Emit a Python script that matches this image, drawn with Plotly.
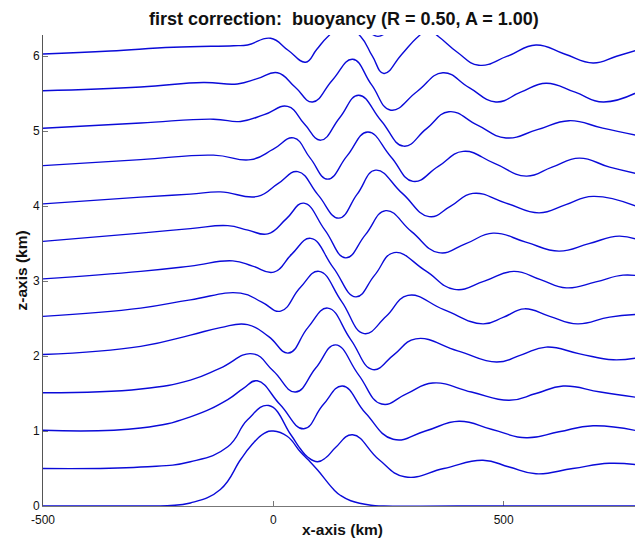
import plotly.graph_objects as go

# ---- data (x in km, z in km) ----
L00_x = [-500, -300, -230, -180, -115, -71, -49, -20, 0, 30, 59, 75, 96, 131, 146, 168, 212, 240, 400, 800]
L00_z = [0, 0, 0.005, 0.04, 0.22, 0.62, 0.80, 0.97, 1.0, 0.93, 0.72, 0.62, 0.48, 0.22, 0.14, 0.07, 0.01, 0, 0, 0]

L05_x = [-500, -288, -180, -99, -56, -10, 38, 59, 75, 96, 115, 135, 172, 229, 285, 370, 455, 512, 570, 650, 729, 800]
L05_z = [0.5, 0.52, 0.59, 0.79, 1.15, 1.34, 0.95, 0.76, 0.65, 0.59, 0.65, 0.78, 0.95, 0.62, 0.39, 0.50, 0.61, 0.52, 0.43, 0.50, 0.57, 0.54]

L10_x = [-500, -288, -180, -99, -65, -35, 15, 66, 108, 150, 200, 260, 330, 403, 475, 549, 620, 694, 800]
L10_z = [1.01, 1.04, 1.19, 1.42, 1.57, 1.67, 1.35, 1.03, 1.35, 1.60, 1.24, 0.89, 1.0, 1.13, 1.02, 0.91, 0.99, 1.07, 0.99]

L15_x = [-500, -288, -180, -115, -45, 0, 48, 92, 135, 185, 235, 290, 346, 430, 512, 570, 629, 710, 800]
L15_z = [1.51, 1.56, 1.68, 1.84, 2.03, 1.80, 1.52, 1.84, 2.15, 1.75, 1.36, 1.50, 1.64, 1.52, 1.41, 1.50, 1.60, 1.52, 1.44]

L20_x = [-500, -288, -180, -115, -56, -10, 33, 75, 118, 168, 216, 262, 309, 400, 485, 540, 592, 665, 738, 800]
L20_z = [2.02, 2.13, 2.28, 2.38, 2.42, 2.26, 2.04, 2.38, 2.64, 2.22, 1.82, 2.02, 2.23, 2.07, 1.92, 2.02, 2.12, 2.03, 1.95, 1.99]

L25_x = [-500, -288, -180, -71, -25, 16, 58, 99, 148, 197, 245, 292, 370, 455, 500, 545, 600, 660, 730, 800]
L25_z = [2.53, 2.64, 2.75, 2.84, 2.72, 2.60, 2.91, 3.13, 2.73, 2.30, 2.53, 2.81, 2.62, 2.43, 2.52, 2.63, 2.53, 2.43, 2.52, 2.56]

L30_x = [-500, -288, -180, -88, -45, 1, 40, 81, 130, 179, 220, 262, 330, 393, 458, 522, 580, 636, 700, 759, 800]
L30_z = [3.03, 3.13, 3.20, 3.27, 3.20, 3.12, 3.36, 3.57, 3.18, 2.79, 3.08, 3.38, 3.14, 2.89, 3.00, 3.13, 3.02, 2.91, 2.99, 3.08, 3.06]

L35_x = [-500, -288, -180, -99, -55, -12, 28, 66, 112, 157, 200, 244, 300, 359, 418, 477, 548, 620, 685, 751, 800]
L35_z = [3.53, 3.64, 3.70, 3.74, 3.68, 3.63, 3.83, 4.04, 3.68, 3.31, 3.62, 3.94, 3.66, 3.38, 3.50, 3.64, 3.52, 3.40, 3.50, 3.60, 3.53]

L40_x = [-500, -288, -180, -115, -34, 10, 53, 97, 142, 182, 222, 280, 338, 385, 433, 505, 577, 635, 694, 800]
L40_z = [4.03, 4.12, 4.16, 4.19, 4.13, 4.30, 4.46, 4.15, 3.84, 4.16, 4.48, 4.17, 3.86, 4.00, 4.17, 4.04, 3.91, 4.02, 4.13, 3.97]

L45_x = [-500, -288, -130, -49, 0, 44, 80, 118, 160, 205, 255, 303, 358, 412, 480, 549, 605, 664, 730, 800]
L45_z = [4.54, 4.62, 4.68, 4.62, 4.76, 4.91, 4.64, 4.36, 4.67, 4.99, 4.66, 4.33, 4.53, 4.73, 4.57, 4.40, 4.52, 4.64, 4.52, 4.42]

L50_x = [-500, -288, -130, -71, -20, 31, 67, 103, 144, 185, 234, 283, 332, 381, 443, 505, 573, 642, 715, 800]
L50_z = [5.04, 5.11, 5.16, 5.13, 5.22, 5.33, 5.10, 4.88, 5.18, 5.48, 5.14, 4.80, 5.03, 5.26, 5.08, 4.91, 5.02, 5.14, 5.04, 4.93]

L55_x = [-500, -288, -152, -78, -35, 9, 47, 85, 128, 172, 213, 255, 312, 368, 425, 483, 537, 592, 655, 716, 800]
L55_z = [5.54, 5.59, 5.65, 5.63, 5.70, 5.78, 5.59, 5.39, 5.68, 5.96, 5.62, 5.28, 5.53, 5.78, 5.58, 5.39, 5.52, 5.64, 5.52, 5.39, 5.55]

L60_x = [-500, -354, -217, -86, -56, -6, 32, 70, 94, 118, 153, 190, 215, 240, 278, 314, 336, 359, 400, 446, 508, 570, 632, 694, 745, 800]
L60_z = [6.03, 6.07, 6.12, 6.14, 6.15, 6.24, 6.08, 5.92, 6.09, 6.26, 6.42, 6.26, 6.00, 5.77, 6.02, 6.26, 6.35, 6.26, 6.05, 5.88, 6.00, 6.15, 6.03, 5.91, 6.00, 6.10]

L65_x = [-500, 100, 160, 200, 227, 255, 295, 350, 800]
L65_z = [6.55, 6.6, 6.5, 6.36, 6.265, 6.36, 6.5, 6.6, 6.55]

x_ticks = [-500, 0, 500]
x_tick_labels = ["-500", "0", "500"]
z_ticks = [0, 1, 2, 3, 4, 5, 6]
z_tick_labels = ["0", "1", "2", "3", "4", "5", "6"]

title_text = "first correction:  buoyancy (R = 0.50, A = 1.00)"
x_label = "x-axis (km)"
z_label = "z-axis (km)"

lines = [(L00_x, L00_z), (L05_x, L05_z), (L10_x, L10_z), (L15_x, L15_z),
         (L20_x, L20_z), (L25_x, L25_z), (L30_x, L30_z), (L35_x, L35_z),
         (L40_x, L40_z), (L45_x, L45_z), (L50_x, L50_z), (L55_x, L55_z),
         (L60_x, L60_z), (L65_x, L65_z)]

fig = go.Figure()
for xs, zs in lines:
    fig.add_trace(go.Scatter(
        x=xs, y=zs, mode="lines",
        line=dict(color="#0a0ad8", width=1.4, shape="spline", smoothing=1.3),
        showlegend=False, hoverinfo="skip"))

font_family = "Liberation Sans, Arial, Helvetica, sans-serif"

fig.update_layout(
    width=635, height=539,
    margin=dict(l=43, r=0, t=35, b=33),
    paper_bgcolor="white", plot_bgcolor="white",
    font=dict(family=font_family, size=12, color="#111111"),
    xaxis=dict(range=[-500, 785], tickvals=x_ticks, ticktext=x_tick_labels,
               ticks="inside", ticklen=5, tickcolor="#777777",
               showline=True, linecolor="#777777", linewidth=1,
               showgrid=False, zeroline=False, layer="below traces",
               ticklabelstandoff=3,
               tickfont=dict(size=12, color="#111111")),
    yaxis=dict(range=[0, 6.283], tickvals=z_ticks, ticktext=z_tick_labels,
               ticks="inside", ticklen=5, tickcolor="#777777",
               showline=True, linecolor="#555555", linewidth=1,
               showgrid=False, zeroline=False, layer="below traces",
               tickfont=dict(size=12, color="#111111")),
    annotations=[
        dict(text="<b>" + title_text + "</b>", xref="paper", yref="paper",
             x=(343.5 - 43) / 592, y=1 + (35 - 19.5) / 471, showarrow=False,
             xanchor="center", yanchor="middle",
             font=dict(size=18, color="#111111", family=font_family)),
        dict(text="<b>" + x_label + "</b>", xref="paper", yref="paper",
             x=(342 - 43) / 592, y=-(529.5 - 506) / 471, showarrow=False,
             xanchor="center", yanchor="middle",
             font=dict(size=15.5, color="#111111", family=font_family)),
        dict(text="<b>" + z_label + "</b>", xref="paper", yref="paper",
             x=-(43 - 21) / 592, y=0.5, showarrow=False, textangle=-90,
             xanchor="center", yanchor="middle",
             font=dict(size=15.5, color="#111111", family=font_family)),
    ],
)

fig.write_html("out.html")
